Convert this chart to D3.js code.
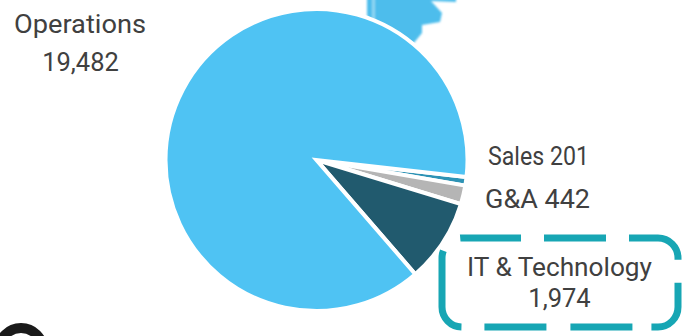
<!DOCTYPE html>
<html>
<head>
<meta charset="utf-8">
<script src="https://cdn.jsdelivr.net/npm/d3@7"></script>
<style>
html,body{margin:0;padding:0;background:#fff;}
svg{display:block;}
text{font-family:Roboto,"Noto Sans",sans-serif;fill:#404040;}
</style>
</head>
<body>
<svg id="chart" width="688" height="336"></svg>
<script>
const departments = ["Sales", "G&A", "IT & Technology", "Operations"];
const headcounts = [201, 442, 1974, 19482];
const sliceColors = ["#2e93b5", "#b5b5b5", "#215a6e", "#4fc3f3"];
const valueFormat = d3.format(",");

const svg = d3.select("#chart");
const cx = 316.5, cy = 160, radius = 151;
const startDeg = 96.5;

const defs = svg.append("defs");
defs.append("filter").attr("id", "soft")
  .append("feGaussianBlur").attr("stdDeviation", 1);

// Fragment of a neighbouring shape poking in at the top edge
const fragment = svg.append("g").attr("filter", "url(#soft)");
fragment.append("path")
  .attr("d", "M367,-4 L367,16 L390,40 L413,44 L422,33 L422,25 L440,22 L442,13 L431,1 L456,2 L456,-4 Z")
  .attr("fill", "#4dbdec");
fragment.append("rect")
  .attr("x", 372).attr("y", -4).attr("width", 3).attr("height", 24)
  .attr("fill", "#8fd6f2");

const pie = d3.pie().sort(null).value(d => d)
  .startAngle(startDeg * Math.PI / 180)
  .endAngle((startDeg + 360) * Math.PI / 180);
const arc = d3.arc().innerRadius(0).outerRadius(radius);

svg.append("g")
  .attr("transform", `translate(${cx},${cy})`)
  .selectAll("path")
  .data(pie(headcounts))
  .join("path")
  .attr("d", arc)
  .attr("fill", (d, i) => sliceColors[i])
  .attr("stroke", "#fff")
  .attr("stroke-width", 4)
  .attr("stroke-linejoin", "miter");

// Dashed callout around the IT & Technology label
svg.append("rect")
  .attr("x", 442).attr("y", 238)
  .attr("width", 236).attr("height", 89)
  .attr("rx", 20).attr("ry", 20)
  .attr("fill", "none")
  .attr("stroke", "#17a6b4")
  .attr("stroke-width", 7)
  .attr("stroke-dasharray", "59 23 62 23 62 23 62 19 62 24 62 23 87 22 3 10");

// Badge ring cut off by the bottom edge
svg.append("circle")
  .attr("cx", 21).attr("cy", 350).attr("r", 22)
  .attr("fill", "none").attr("stroke", "#1a1a1a").attr("stroke-width", 10);

// Each line carries its own set width so the words sit evenly
const labels = [
  { text: departments[3], x: 80, y: 33, width: 132 },
  { text: valueFormat(headcounts[3]), x: 80.5, y: 71 },
  { text: `${departments[0]} ${valueFormat(headcounts[0])}`, x: 538.5, y: 165, width: 101 },
  { text: `${departments[1]} ${valueFormat(headcounts[1])}`, x: 537.5, y: 208, width: 105 },
  { text: departments[2], x: 559.5, y: 276, width: 185 },
  { text: valueFormat(headcounts[2]), x: 559.5, y: 307 }
];
labels.forEach(l => {
  const t = svg.append("text")
    .attr("x", l.x).attr("y", l.y)
    .attr("text-anchor", "middle")
    .attr("font-size", 25.5)
    .text(l.text);
  if (l.width) t.attr("textLength", l.width).attr("lengthAdjust", "spacingAndGlyphs");
});
</script>
</body>
</html>
